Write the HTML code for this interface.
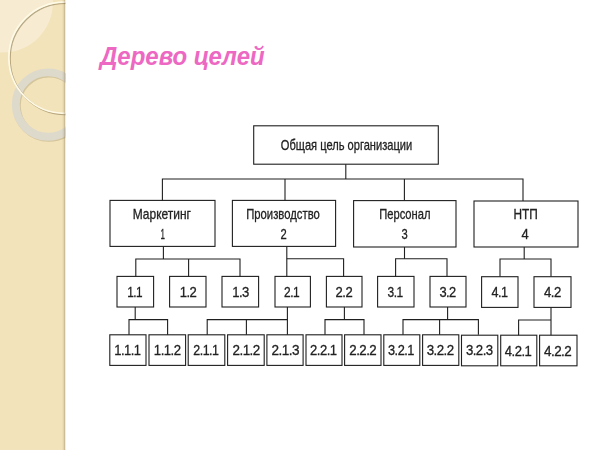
<!DOCTYPE html>
<html><head><meta charset="utf-8"><title>Дерево целей</title>
<style>
html,body{margin:0;padding:0;}
body{width:600px;height:450px;overflow:hidden;background:#fff;position:relative;font-family:"Liberation Sans",sans-serif;}
#side{position:absolute;left:0;top:0;}
h1{position:absolute;left:100.4px;top:39px;margin:0;font-size:26.5px;line-height:34px;font-weight:bold;font-style:italic;color:#ed68c2;white-space:nowrap;transform-origin:0 0;transform:scaleX(.905);}
svg#d{position:absolute;left:0;top:0;will-change:transform;}
svg#d rect,svg#d path{fill:none;stroke:#1f1f1f;stroke-width:1.1;}
svg#d text{fill:#222;stroke:#222;stroke-width:.3;font-family:"Liberation Sans",sans-serif;}
</style></head><body>
<svg id="side" width="70" height="450" viewBox="0 0 70 450">
<defs><linearGradient id="sh" x1="0" x2="1" y1="0" y2="0">
<stop offset="0" stop-color="#6e5f3c" stop-opacity="0"/>
<stop offset=".45" stop-color="#6e5f3c" stop-opacity=".12"/>
<stop offset=".8" stop-color="#6e5f3c" stop-opacity=".34"/>
<stop offset="1" stop-color="#6e5f3c" stop-opacity=".3"/>
</linearGradient>
<clipPath id="cl"><rect x="0" y="0" width="65.5" height="450"/></clipPath></defs>
<g clip-path="url(#cl)">
<rect x="0" y="0" width="65.5" height="450" fill="#f2e3ba"/>
<circle cx="2.7" cy="2.4" r="50.2" fill="#f7ecd1"/>
<circle cx="49" cy="105.7" r="32.2" fill="none" stroke="#8a7850" stroke-width="7.9" opacity=".28"/>
<circle cx="48" cy="104.6" r="32.2" fill="none" stroke="#ddd9cb" stroke-width="7.9"/>
<circle cx="65.6" cy="58.8" r="55.6" fill="none" stroke="#7d6a40" stroke-width="1.6" opacity=".5"/>
<circle cx="64.5" cy="57.7" r="55.6" fill="none" stroke="#fffae6" stroke-width="1.7"/>
<rect x="62" y="0" width="3.5" height="450" fill="url(#sh)"/>
</g>
</svg>
<h1>Дерево целей</h1>
<svg id="d" width="600" height="450" viewBox="0 0 600 450">
<rect x="253.7" y="125.8" width="184.6" height="38.4"/>
<rect x="110.0" y="200.4" width="105.0" height="46.0"/>
<rect x="232.4" y="200.4" width="103.2" height="46.0"/>
<rect x="353.6" y="200.6" width="102.4" height="46.4"/>
<rect x="474.0" y="201.0" width="104.0" height="46.0"/>
<rect x="117.0" y="276.4" width="36.6" height="30.6"/>
<rect x="169.6" y="276.4" width="36.4" height="30.6"/>
<rect x="222.0" y="276.4" width="36.6" height="30.6"/>
<rect x="275.0" y="276.4" width="35.4" height="30.6"/>
<rect x="326.4" y="276.4" width="35.6" height="30.6"/>
<rect x="377.6" y="276.4" width="36.4" height="30.6"/>
<rect x="430.0" y="276.4" width="36.0" height="30.6"/>
<rect x="481.6" y="276.7" width="36.4" height="30.7"/>
<rect x="534.0" y="276.7" width="37.0" height="30.7"/>
<rect x="109.8" y="334.8" width="36.2" height="30.6"/>
<rect x="149.0" y="334.8" width="36.6" height="30.6"/>
<rect x="188.2" y="334.8" width="36.6" height="30.6"/>
<rect x="227.6" y="334.8" width="36.6" height="30.6"/>
<rect x="266.9" y="334.8" width="36.2" height="30.6"/>
<rect x="306.0" y="334.8" width="36.0" height="30.6"/>
<rect x="344.6" y="334.8" width="36.4" height="30.6"/>
<rect x="383.8" y="334.8" width="36.0" height="30.6"/>
<rect x="422.6" y="334.8" width="36.2" height="30.6"/>
<rect x="461.5" y="335.2" width="36.3" height="30.6"/>
<rect x="500.7" y="335.2" width="36.1" height="30.6"/>
<rect x="539.6" y="335.2" width="37.4" height="30.6"/>
<path d="M345.8 164.2L345.8 179.0"/>
<path d="M162.4 200.4L162.4 179.0L523.0 179.0L523.0 201.0"/>
<path d="M285.0 179.0L285.0 200.4"/>
<path d="M404.4 179.0L404.4 200.6"/>
<path d="M163.4 246.4L163.4 259.0"/>
<path d="M135.8 276.4L135.8 259.0L240.0 259.0L240.0 276.4"/>
<path d="M188.6 259.0L188.6 276.4"/>
<path d="M286.8 246.4L286.8 276.4"/>
<path d="M286.8 258.8L343.6 258.8L343.6 276.4"/>
<path d="M404.5 247.0L404.5 258.8"/>
<path d="M395.6 276.4L395.6 258.8L447.0 258.8L447.0 276.4"/>
<path d="M524.2 247.0L524.2 259.0"/>
<path d="M500.0 276.6L500.0 259.0L551.0 259.0L551.0 276.6"/>
<path d="M135.2 307.0L135.2 319.6"/>
<path d="M129.0 334.8L129.0 319.6L167.6 319.6L167.6 334.8"/>
<path d="M287.4 307.0L287.4 334.8"/>
<path d="M207.2 334.8L207.2 319.6L287.4 319.6"/>
<path d="M246.4 319.6L246.4 334.8"/>
<path d="M344.4 307.0L344.4 319.6"/>
<path d="M325.0 334.8L325.0 319.6L364.0 319.6L364.0 334.8"/>
<path d="M447.6 307.0L447.6 319.6"/>
<path d="M403.0 334.8L403.0 319.6L478.4 319.6L478.4 334.8"/>
<path d="M439.6 319.6L439.6 334.8"/>
<path d="M551.0 307.4L551.0 335.2"/>
<path d="M518.6 335.2L518.6 320.0L551.0 320.0"/>
<text font-size="14.0" transform="translate(280.80 150.0) scale(0.793 1)">Общая цель организации</text>
<text font-size="14.0" transform="translate(132.74 218.8) scale(0.857 1)">Маркетинг</text>
<text font-size="14.0" transform="translate(160.43 238.8) scale(0.571 1)">1</text>
<text font-size="14.0" transform="translate(246.19 218.8) scale(0.807 1)">Производство</text>
<text font-size="14.0" transform="translate(280.60 238.8) scale(0.800 1)">2</text>
<text font-size="14.0" transform="translate(379.20 218.8) scale(0.799 1)">Персонал</text>
<text font-size="14.0" transform="translate(401.60 238.8) scale(0.800 1)">3</text>
<text font-size="14.0" transform="translate(513.55 219.0) scale(0.848 1)">НТП</text>
<text font-size="14.0" transform="translate(521.60 239.0) scale(0.925 1)">4</text>
<text font-size="15.0" letter-spacing="-0.6" transform="translate(127.21 296.6) scale(0.786 1)">1.1</text>
<text font-size="15.0" letter-spacing="-0.6" transform="translate(179.73 296.6) scale(0.874 1)">1.2</text>
<text font-size="15.0" letter-spacing="-0.6" transform="translate(232.13 296.6) scale(0.874 1)">1.3</text>
<text font-size="15.0" letter-spacing="-0.6" transform="translate(284.00 296.6) scale(0.798 1)">2.1</text>
<text font-size="15.0" letter-spacing="-0.6" transform="translate(335.60 296.6) scale(0.870 1)">2.2</text>
<text font-size="15.0" letter-spacing="-0.6" transform="translate(387.60 296.6) scale(0.798 1)">3.1</text>
<text font-size="15.0" letter-spacing="-0.6" transform="translate(439.40 296.6) scale(0.860 1)">3.2</text>
<text font-size="15.0" letter-spacing="-0.6" transform="translate(491.40 296.8) scale(0.839 1)">4.1</text>
<text font-size="15.0" letter-spacing="-0.6" transform="translate(544.00 296.8) scale(0.880 1)">4.2</text>
<text font-size="15.0" letter-spacing="-0.6" transform="translate(114.34 355.0) scale(0.864 1)">1.1.1</text>
<text font-size="15.0" letter-spacing="-0.6" transform="translate(153.82 355.0) scale(0.881 1)">1.1.2</text>
<text font-size="15.0" letter-spacing="-0.6" transform="translate(193.30 355.0) scale(0.830 1)">2.1.1</text>
<text font-size="15.0" letter-spacing="-0.6" transform="translate(232.50 355.0) scale(0.898 1)">2.1.2</text>
<text font-size="15.0" letter-spacing="-0.6" transform="translate(271.50 355.0) scale(0.905 1)">2.1.3</text>
<text font-size="15.0" letter-spacing="-0.6" transform="translate(310.10 355.0) scale(0.872 1)">2.2.1</text>
<text font-size="15.0" letter-spacing="-0.6" transform="translate(349.30 355.0) scale(0.888 1)">2.2.2</text>
<text font-size="15.0" letter-spacing="-0.6" transform="translate(388.00 355.2) scale(0.852 1)">3.2.1</text>
<text font-size="15.0" letter-spacing="-0.6" transform="translate(426.70 355.2) scale(0.888 1)">3.2.2</text>
<text font-size="15.0" letter-spacing="-0.6" transform="translate(465.90 355.2) scale(0.879 1)">3.2.3</text>
<text font-size="15.0" letter-spacing="-0.6" transform="translate(504.80 355.5) scale(0.872 1)">4.2.1</text>
<text font-size="15.0" letter-spacing="-0.6" transform="translate(544.00 355.5) scale(0.898 1)">4.2.2</text>
</svg>
</body></html>
